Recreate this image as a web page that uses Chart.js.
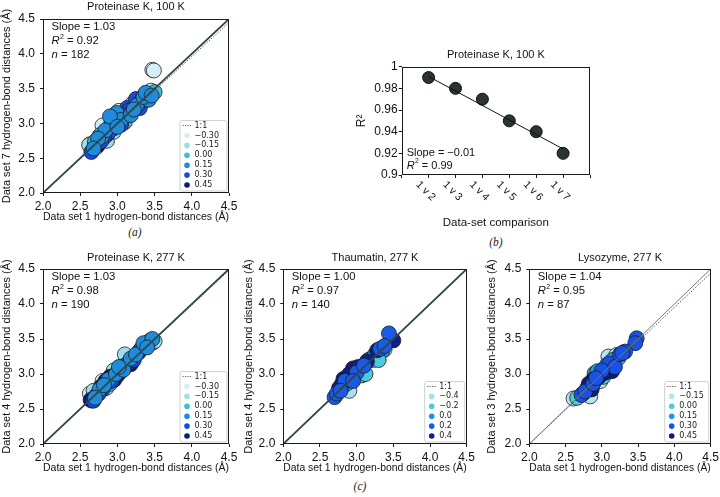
<!DOCTYPE html>
<html><head><meta charset="utf-8">
<script src="https://cdn.jsdelivr.net/npm/chart.js@4.4.1/dist/chart.umd.min.js"></script>
<style>
html,body{margin:0;padding:0;background:#fff;width:720px;height:497px;overflow:hidden;position:relative}
canvas{position:absolute}
.lbl{position:absolute;font-family:"Liberation Serif",serif;font-style:italic;font-size:11.5px;color:#222;transform:translate(-50%,-50%)}
</style></head><body>
<canvas id="ca"></canvas>
<canvas id="cb"></canvas>
<canvas id="cc1"></canvas>
<canvas id="cc2"></canvas>
<canvas id="cc3"></canvas>
<div class="lbl" style="left:135px;top:232px">(a)</div>
<div class="lbl" style="left:496px;top:242px">(b)</div>
<div class="lbl" style="left:360px;top:486px">(c)</div>
<script>
// ---------- shared axis data ----------
const scatterTicks = [2.0, 2.5, 3.0, 3.5, 4.0, 4.5];
const scatterTickLabels = ['2.0', '2.5', '3.0', '3.5', '4.0', '4.5'];
const xAxisLabel = 'Data set 1 hydrogen-bond distances (Å)';

// ---------- panel (a): Proteinase K, 100 K ----------
const aTitle = 'Proteinase K, 100 K';
const aYLabel = 'Data set 7 hydrogen-bond distances (Å)';
const aBinLabels = ['−0.30', '−0.15', '0.00', '0.15', '0.30', '0.45'];
const aColors = ['#d6eef5', '#a0dcea', '#3cbfd4', '#1f8cdb', '#1748e8', '#0b1c7a'];
const aStats = ['1.03', '0.92', '182'];
const aFitLine = [[2.0, 2.0], [4.5, 4.5]];
const aOneToOne = [[2.0, 2.0], [4.5, 4.45]];
const aM030 = [[3.47,3.77],[3.49,3.76],[2.63,2.70],[2.80,2.97],[3.45,3.47],[2.72,2.66],[3.02,3.18]];
const aM015 = [[2.62,2.69],[2.86,2.75],[3.38,3.42],[2.76,2.82],[3.20,3.28],[2.95,2.88]];
const aP000 = [[3.50,3.45],[2.78,2.84],[3.10,3.02],[2.70,2.74],[3.33,3.30],[2.92,2.96]];
const aP015 = [[2.79,2.81],[2.99,3.15],[3.26,3.26],[3.42,3.34],[2.84,2.90],[3.05,3.05],[3.18,3.12],[2.90,3.10],[3.35,3.38],[2.74,2.78],[3.00,2.95],[3.22,3.20],[3.38,3.44],[3.46,3.40],[2.68,2.64]];
const aP030 = [[2.65,2.59],[2.92,3.02],[3.13,3.22],[3.30,3.22],[2.96,3.00],[3.08,3.10],[2.88,2.87],[3.25,3.35],[2.98,3.08],[3.15,3.18],[2.82,2.80],[3.00,3.12],[2.93,2.97],[3.12,3.12],[3.28,3.28],[2.78,2.74],[3.05,2.98]];
const aP045 = [[2.74,2.69],[3.10,3.07],[3.03,3.00],[2.95,2.93],[2.86,2.84],[3.20,3.18],[2.70,2.72]];

// ---------- panel (b): R2 per data-set comparison ----------
const bTitle = 'Proteinase K, 100 K';
const bXTicks = [0, 1, 2, 3, 4, 5, 6, 7];
const bXLabels = ['', '1 v 2', '1 v 3', '1 v 4', '1 v 5', '1 v 6', '1 v 7', ''];
const bComparisonIndex = [1, 2, 3, 4, 5, 6];
const bR2 = [0.99, 0.98, 0.97, 0.95, 0.94, 0.92];
const bTrend = [[1, 0.991], [6, 0.924]];
const bYTicks = [0.9, 0.92, 0.94, 0.96, 0.98, 1];
const bYTickLabels = ['0.9', '0.92', '0.94', '0.96', '0.98', '1'];
const bStats = ['−0.01', '0.99'];

// ---------- panel (c1): Proteinase K, 277 K ----------
const c1Title = 'Proteinase K, 277 K';
const c1YLabel = 'Data set 4 hydrogen-bond distances (Å)';
const c1BinLabels = ['−0.30', '−0.15', '0.00', '0.15', '0.30', '0.45'];
const c1Colors = ['#d6eef5', '#a0dcea', '#3cbfd4', '#1f8cdb', '#1748e8', '#0b1c7a'];
const c1Stats = ['1.03', '0.98', '190'];
const c1FitLine = [[2.0, 2.0], [4.5, 4.5]];
const c1OneToOne = [[2.0, 2.0], [4.5, 4.48]];
const c1M030 = [[2.63,2.72],[2.66,2.62],[3.12,3.25],[3.48,3.45],[2.80,2.90]];
const c1M015 = [[2.68,2.76],[3.10,3.28],[3.36,3.40],[2.95,3.05],[3.50,3.47],[2.85,2.80]];
const c1P000 = [[2.72,2.70],[3.00,3.02],[3.30,3.33],[2.90,2.86],[3.20,3.18],[3.44,3.48]];
const c1P015 = [[2.76,2.78],[2.88,2.92],[2.98,3.00],[3.08,3.06],[3.18,3.22],[3.25,3.28],[3.35,3.44],[3.47,3.50],[2.82,2.84],[3.02,3.10],[3.40,3.38],[2.70,2.66]];
const c1P030 = [[2.68,2.62],[2.80,2.78],[2.86,2.88],[2.94,2.96],[3.05,3.04],[3.14,3.15],[3.22,3.20],[3.28,3.30],[3.32,3.36],[2.75,2.72],[2.92,2.90],[3.10,3.12]];
const c1P045 = [[2.64,2.63],[2.78,2.82],[2.84,2.90],[2.96,2.92],[3.06,3.08],[3.18,3.14],[2.90,2.96],[3.00,2.98]];

// ---------- panel (c2): Thaumatin, 277 K ----------
const c2Title = 'Thaumatin, 277 K';
const c2YLabel = 'Data set 4 hydrogen-bond distances (Å)';
const c2BinLabels = ['−0.4', '−0.2', '0.0', '0.2', '0.4'];
const c2Colors = ['#a8def0', '#4ccadc', '#2493d6', '#1a5ae6', '#0c1f8a'];
const c2Stats = ['1.00', '0.97', '140'];
const c2FitLine = [[2.0, 2.0], [4.5, 4.5]];
const c2OneToOne = [[2.0, 2.0], [4.5, 4.5]];
const c2M04 = [[2.90,2.76],[3.22,3.20],[2.82,2.84],[3.38,3.35]];
const c2M02 = [[3.07,2.98],[3.12,3.00],[2.78,2.80],[3.30,3.20],[2.96,3.00]];
const c2P00 = [[3.20,3.22],[3.16,3.20],[3.35,3.33],[3.05,3.06],[2.86,2.86],[3.25,3.28],[2.92,2.96]];
const c2P02 = [[2.70,2.67],[2.73,2.72],[3.44,3.58],[3.32,3.36],[2.84,2.90],[3.00,3.02],[3.10,3.12],[2.78,2.76],[3.38,3.40],[2.95,2.90]];
const c2P04 = [[3.50,3.48],[2.95,3.08],[2.82,2.93],[2.88,2.96],[2.80,2.86],[3.02,3.10],[2.90,3.00],[3.28,3.34],[2.76,2.80],[3.14,3.18]];

// ---------- panel (c3): Lysozyme, 277 K ----------
const c3Title = 'Lysozyme, 277 K';
const c3YLabel = 'Data set 3 hydrogen-bond distances (Å)';
const c3BinLabels = ['−0.15', '0.00', '0.15', '0.30', '0.45'];
const c3Colors = ['#b5e4f0', '#52c8da', '#219ad8', '#1752e6', '#0c1c7e'];
const c3Stats = ['1.04', '0.95', '87'];
const c3FitLine = [[2.0, 2.0], [4.5, 4.5]];
const c3OneToOne = [[2.0, 2.0], [4.5, 4.44]];
const c3M015 = [[2.61,2.65],[2.84,2.68],[3.09,3.25],[2.98,2.90],[3.20,3.27]];
const c3P000 = [[3.23,3.23],[2.96,3.02],[2.66,2.66],[3.02,2.96]];
const c3P015 = [[3.07,3.13],[2.99,2.99],[2.90,3.01],[3.15,3.20],[2.94,3.04],[3.12,3.08],[2.80,2.80]];
const c3P030 = [[3.48,3.51],[3.46,3.44],[3.32,3.32],[2.72,2.70],[2.77,2.75],[3.10,3.15],[3.18,3.10],[2.88,2.86],[3.25,3.28],[3.00,3.05],[2.92,2.94],[3.28,3.30]];
const c3P045 = [[2.84,2.82],[2.74,2.72],[2.88,2.92],[2.82,2.86],[3.05,3.02],[2.95,2.95],[3.14,3.04],[2.86,2.78]];

// ---------- drawing ----------
const FONT = "'Liberation Sans', Arial, Helvetica, sans-serif";
const INK = '#1a1a1a';

function place(id, x, y, w, h) {
  const cv = document.getElementById(id);
  cv.width = w; cv.height = h;
  cv.style.left = x + 'px'; cv.style.top = y + 'px';
  cv.style.width = w + 'px'; cv.style.height = h + 'px';
  return cv;
}
const toXY = arr => arr.map(p => ({x: p[0], y: p[1]}));

const framePlugin = {
  id: 'frame',
  afterDraw(chart) {
    const a = chart.chartArea, ctx = chart.ctx;
    ctx.save();
    ctx.strokeStyle = INK; ctx.lineWidth = 1;
    ctx.strokeRect(Math.round(a.left) + 0.5, Math.round(a.top) + 0.5,
                   Math.round(a.right) - Math.round(a.left) - 1, Math.round(a.bottom) - Math.round(a.top) - 1);
    ctx.restore();
  }
};

function drawStat(ctx, x, y, italicPart, sup, rest, size) {
  ctx.font = 'italic ' + size + 'px ' + FONT;
  ctx.fillText(italicPart, x, y);
  let w = ctx.measureText(italicPart).width;
  if (sup) {
    ctx.font = (size * 0.62).toFixed(1) + 'px ' + FONT;
    ctx.fillText(sup, x + w + 0.3, y - size * 0.38);
    w += ctx.measureText(sup).width + 0.3;
  }
  ctx.font = size + 'px ' + FONT;
  ctx.fillText(rest, x + w, y);
}

function scatterPanel(id, pos, cfg) {
  const cv = place(id, pos.x, pos.y, pos.w, pos.h);
  const datasets = [
    {data: toXY(cfg.fit), showLine: true, borderColor: cfg.fitColor, borderWidth: cfg.fitWidth, pointRadius: 0, order: 0},
    {data: toXY(cfg.one), showLine: true, borderColor: '#5a5a5a', borderWidth: 1, borderDash: [1.5, 1.5], pointRadius: 0, order: 0}
  ];
  cfg.bins.forEach((b, i) => datasets.push({
    data: toXY(b), showLine: false, backgroundColor: cfg.colors[i],
    borderColor: '#1c1c1c', borderWidth: 0.8, pointRadius: 7.5, order: cfg.stack[i]
  }));
  const overlay = {
    id: 'overlay',
    afterDraw(chart) {
      const a = chart.chartArea, ctx = chart.ctx;
      ctx.save();
      ctx.fillStyle = '#111'; ctx.textBaseline = 'middle'; ctx.textAlign = 'left';
      const sx = a.left + 8.5, fs = 11.3;
      ctx.font = fs + 'px ' + FONT;
      ctx.fillText('Slope = ' + cfg.stats[0], sx, a.top + 8);
      drawStat(ctx, sx, a.top + 22, 'R', '2', ' = ' + cfg.stats[1], fs);
      drawStat(ctx, sx, a.top + 36, 'n', '', ' = ' + cfg.stats[2], fs);
      // legend
      const n = cfg.labels.length + 1, step = 9.9;
      const bh = 5 + (n - 1) * step + 6, bw = cfg.legendW;
      const L = a.right - 2.5 - bw, T = a.bottom - 2.5 - bh;
      ctx.fillStyle = 'rgba(255,255,255,0.85)';
      ctx.strokeStyle = '#cfcfcf'; ctx.lineWidth = 1;
      ctx.beginPath(); ctx.roundRect(L + 0.5, T + 0.5, bw, bh, 2); ctx.fill(); ctx.stroke();
      ctx.font = '8px "DejaVu Sans", sans-serif';
      ctx.fillStyle = '#222';
      let y = T + 5.5;
      ctx.strokeStyle = '#555'; ctx.setLineDash([1.2, 1.2]);
      ctx.beginPath(); ctx.moveTo(L + 3, y); ctx.lineTo(L + 12, y); ctx.stroke();
      ctx.setLineDash([]);
      ctx.fillText('1:1', L + 15, y);
      cfg.labels.forEach((t, i) => {
        y = T + 5.5 + (i + 1) * step;
        ctx.fillStyle = cfg.colors[i];
        ctx.beginPath(); ctx.arc(L + 7.5, y, 2.8, 0, Math.PI * 2); ctx.fill();
        ctx.fillStyle = '#222';
        ctx.fillText(t, L + 15, y);
      });
      ctx.restore();
    }
  };
  return new Chart(cv, {
    type: 'scatter',
    data: {datasets},
    plugins: [framePlugin, overlay],
    options: {
      responsive: false, animation: false, devicePixelRatio: 1,
      layout: {padding: {top: 0, left: 0, right: pos.pr, bottom: 0}},
      plugins: {
        legend: {display: false}, tooltip: {enabled: false},
        title: {display: true, text: cfg.title, fullSize: false, color: '#111',
                font: {family: FONT, size: 11, weight: 'normal'},
                padding: {top: pos.tpt, bottom: pos.tpb}}
      },
      scales: {
        x: {
          type: 'linear', min: 2, max: 4.5,
          afterBuildTicks: s => { s.ticks = scatterTicks.map(v => ({value: v})); },
          afterFit: s => { s.height = pos.xh; s.paddingLeft = 0; s.paddingRight = 0; },
          ticks: {callback: v => scatterTickLabels[scatterTicks.indexOf(v)], font: {family: FONT, size: 12},
                  color: '#111', padding: 3.5, maxRotation: 0, autoSkip: false},
          grid: {display: true, drawOnChartArea: false, drawTicks: true, tickLength: 3, color: INK, tickColor: INK},
          border: {display: false},
          title: {display: true, text: xAxisLabel, color: '#111', font: {family: FONT, size: 11}, padding: {top: 0, bottom: 0}}
        },
        y: {
          type: 'linear', min: 2, max: 4.5,
          afterBuildTicks: s => { s.ticks = scatterTicks.map(v => ({value: v})); },
          afterFit: s => { s.width = pos.yw; s.paddingTop = 0; s.paddingBottom = 0; },
          ticks: {callback: v => scatterTickLabels[scatterTicks.indexOf(v)], font: {family: FONT, size: 12},
                  color: '#111', padding: 5, autoSkip: false},
          grid: {display: true, drawOnChartArea: false, drawTicks: true, tickLength: 3, color: INK, tickColor: INK},
          border: {display: false},
          title: {display: true, text: cfg.yLabel, color: '#111', font: {family: FONT, size: 11}, padding: {top: 0, bottom: 0}}
        }
      }
    }
  });
}

// panel (a)
scatterPanel('ca', {x: 0, y: 0, w: 241, h: 224, pr: 12, yw: 43, xh: 31, tpt: 0, tpb: 5.8}, {
  title: aTitle, yLabel: aYLabel, labels: aBinLabels, colors: aColors, stats: aStats,
  fit: aFitLine, one: aOneToOne, fitColor: '#2d4848', fitWidth: 1.8, legendW: 47,
  bins: [aM030, aM015, aP000, aP015, aP030, aP045], stack: [6, 5, 3, 1, 2, 4]
});
// panel (c1)
scatterPanel('cc1', {x: 0, y: 250, w: 241, h: 225, pr: 12, yw: 43, xh: 31, tpt: 1.2, tpb: 4.6}, {
  title: c1Title, yLabel: c1YLabel, labels: c1BinLabels, colors: c1Colors, stats: c1Stats,
  fit: c1FitLine, one: c1OneToOne, fitColor: '#2d4848', fitWidth: 1.8, legendW: 47,
  bins: [c1M030, c1M015, c1P000, c1P015, c1P030, c1P045], stack: [6, 5, 4, 1, 2, 3]
});
// panel (c2)
scatterPanel('cc2', {x: 242, y: 250, w: 236, h: 225, pr: 11.3, yw: 41.3, xh: 31, tpt: 1.2, tpb: 4.6}, {
  title: c2Title, yLabel: c2YLabel, labels: c2BinLabels, colors: c2Colors, stats: c2Stats,
  fit: c2FitLine, one: c2OneToOne, fitColor: '#2d4848', fitWidth: 1.8, legendW: 40,
  bins: [c2M04, c2M02, c2P00, c2P02, c2P04], stack: [5, 3, 4, 1, 2]
});
// panel (c3)
scatterPanel('cc3', {x: 485, y: 250, w: 235, h: 225, pr: 9.3, yw: 44.3, xh: 31, tpt: 1.2, tpb: 4.6}, {
  title: c3Title, yLabel: c3YLabel, labels: c3BinLabels, colors: c3Colors, stats: c3Stats,
  fit: c3FitLine, one: c3OneToOne, fitColor: '#6a7a7a', fitWidth: 1, legendW: 44,
  bins: [c3M015, c3P000, c3P015, c3P030, c3P045], stack: [5, 4, 3, 1, 2]
});

// panel (b)
(function () {
  const pos = {x: 354, y: 40, w: 246, h: 190};
  const cv = place('cb', pos.x, pos.y, pos.w, pos.h);
  const overlay = {
    id: 'bOverlay',
    afterDraw(chart) {
      const a = chart.chartArea, ctx = chart.ctx, xs = chart.scales.x;
      ctx.save();
      ctx.fillStyle = '#111'; ctx.textBaseline = 'middle';
      ctx.textAlign = 'center';
      ctx.font = '10.5px ' + FONT;
      bXTicks.forEach((v, i) => {
        const t = bXLabels[i];
        if (!t) return;
        ctx.save();
        ctx.translate(xs.getPixelForValue(v) - 3, xs.top + 16);
        ctx.rotate(Math.PI / 4);
        ctx.fillText(t, 0, 0);
        ctx.restore();
      });
      ctx.textAlign = 'left';
      ctx.font = '11px ' + FONT;
      ctx.fillText('Slope = ' + bStats[0], a.left + 5, a.bottom - 22);
      drawStat(ctx, a.left + 5, a.bottom - 9.3, 'R', '2', ' = ' + bStats[1], 11);
      ctx.restore();
    }
  };
  new Chart(cv, {
    type: 'scatter',
    data: {datasets: [
      {data: toXY(bTrend), showLine: true, borderColor: '#111', borderWidth: 1, pointRadius: 0},
      {data: bComparisonIndex.map((c, i) => ({x: c, y: bR2[i]})), showLine: false,
       backgroundColor: '#2b3434', borderColor: '#111', borderWidth: 1, pointRadius: 6}
    ]},
    plugins: [framePlugin, overlay],
    options: {
      responsive: false, animation: false, devicePixelRatio: 1,
      layout: {padding: {top: 0, left: 0, right: 10, bottom: 0}},
      plugins: {
        legend: {display: false}, tooltip: {enabled: false},
        title: {display: true, text: bTitle, fullSize: false, color: '#111',
                font: {family: FONT, size: 11, weight: 'normal'}, padding: {top: 8.4, bottom: 5.1}}
      },
      scales: {
        x: {
          type: 'linear', min: 0, max: 7,
          afterBuildTicks: s => { s.ticks = bXTicks.map(v => ({value: v})); },
          afterFit: s => { s.height = 55; s.paddingLeft = 0; s.paddingRight = 0; },
          ticks: {display: false},
          grid: {display: true, drawOnChartArea: false, drawTicks: true, tickLength: 3, color: INK, tickColor: INK},
          border: {display: false},
          title: {display: true, text: 'Data-set comparison', color: '#111', font: {family: FONT, size: 11.5}, padding: {top: 0, bottom: 0}}
        },
        y: {
          type: 'linear', min: 0.9, max: 1,
          afterBuildTicks: s => { s.ticks = bYTicks.map(v => ({value: v})); },
          afterFit: s => { s.width = 47.7; s.paddingTop = 0; s.paddingBottom = 0; },
          ticks: {callback: v => bYTickLabels[bYTicks.indexOf(v)], font: {family: FONT, size: 12}, color: '#111', padding: 1, autoSkip: false},
          grid: {display: true, drawOnChartArea: false, drawTicks: true, tickLength: 3, color: INK, tickColor: INK},
          border: {display: false},
          title: {display: true, text: 'R²', color: '#111', font: {family: FONT, size: 12}, padding: {top: 0, bottom: 0}}
        }
      }
    }
  });
})();
</script>
</body></html>
